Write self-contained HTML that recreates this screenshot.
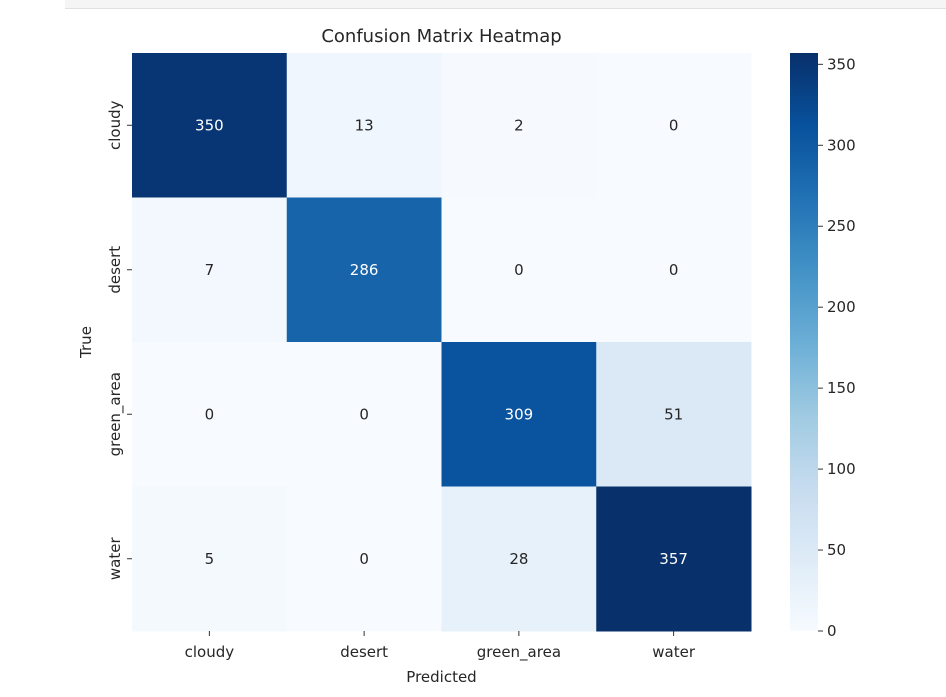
<!DOCTYPE html>
<html><head><meta charset="utf-8"><style>
body{margin:0;background:#fff;font-family:"DejaVu Sans","Liberation Sans",sans-serif}
#top{position:absolute;left:65px;top:0;width:881px;height:8px;background:#f5f5f5;border-bottom:1px solid #e0e0e0}
</style></head><body>
<div id="top"></div>
<svg id="chart" width="946" height="697" style="position:absolute;left:0;top:0"></svg>
<script>
const labels=["cloudy","desert","green_area","water"];
const matrix=[[350,13,2,0],[7,286,0,0],[0,0,309,51],[5,0,28,357]];
const cbTicks=[0,50,100,150,200,250,300,350];
const vmin=0,vmax=357;
const blues=[[247,251,255],[222,235,247],[198,219,239],[158,202,225],[107,174,214],[66,146,198],[33,113,181],[8,81,156],[8,48,107]];
function cmap(v){let t=Math.max(0,Math.min(1,(v-vmin)/(vmax-vmin)))*(blues.length-1);let i=Math.min(Math.floor(t),blues.length-2),f=t-i;const a=blues[i],b=blues[i+1];return `rgb(${a.map((c,k)=>Math.round(c+(b[k]-c)*f)).join(',')})`;}
const svg=document.getElementById('chart');const NS='http://www.w3.org/2000/svg';
function el(tag,attrs,parent){const e=document.createElementNS(NS,tag);for(const k in attrs)e.setAttribute(k,attrs[k]);(parent||svg).appendChild(e);return e;}
const X0=132,X1=751,Y0=53,Y1=631;const cw=(X1-X0)/labels.length,ch=(Y1-Y0)/labels.length;
const xs=i=>X0+i*cw,ys=i=>Y0+i*ch;
matrix.forEach((row,r)=>row.forEach((v,c)=>{
 const rc=el('rect',{x:xs(c),y:ys(r),width:cw+0.5,height:ch+0.5,fill:cmap(v)});
 
 
 const t=el('text',{x:xs(c)+cw/2,y:ys(r)+ch/2+5,'text-anchor':'middle','font-size':'15',fill:(v-vmin)/(vmax-vmin)>0.5?'#fff':'#262626'});
 t.textContent=v;
 
 
}));
labels.forEach((l,i)=>{
 const cx=xs(i)+cw/2;
 el('line',{x1:cx,x2:cx,y1:Y1,y2:Y1+5,stroke:'#333'});
 const t=el('text',{x:cx,y:Y1+26,'text-anchor':'middle','font-size':'15',fill:'#262626'});t.textContent=l;
 
 
 const cy=ys(i)+ch/2;
 el('line',{x1:X0-5,x2:X0,y1:cy,y2:cy,stroke:'#333'});
 const u=el('text',{x:0,y:0,'text-anchor':'middle','font-size':'15',fill:'#262626',transform:`translate(${X0-12},${cy}) rotate(-90)`});u.textContent=l;
 
 
});
const title=el('text',{x:(X0+X1)/2,y:42,'text-anchor':'middle','font-size':'18',fill:'#262626'});title.textContent='Confusion Matrix Heatmap';


const xt=el('text',{x:(X0+X1)/2,y:682,'text-anchor':'middle','font-size':'15',fill:'#262626'});xt.textContent='Predicted';


const yt=el('text',{x:0,y:0,'text-anchor':'middle','font-size':'15',fill:'#262626',transform:`translate(91,${(Y0+Y1)/2}) rotate(-90)`});yt.textContent='True';


// colorbar
const CX=790,CW=28;const cby=v=>Y1-(v-vmin)/(vmax-vmin)*(Y1-Y0);
const defs=el('defs',{});const g=el('linearGradient',{id:'cbg',x1:0,y1:1,x2:0,y2:0},defs);
blues.forEach((c,i)=>el('stop',{offset:i/(blues.length-1),'stop-color':`rgb(${c})`},g));
const cb=el('rect',{x:CX,y:Y0,width:CW,height:Y1-Y0,fill:'url(#cbg)'});


cbTicks.forEach(v=>{const y=cby(v);el('line',{x1:CX+CW,x2:CX+CW+5,y1:y,y2:y,stroke:'#333'});
 const t=el('text',{x:CX+CW+9,y:y+5,'font-size':'15',fill:'#262626'});t.textContent=v;
 
 });
</script>
</body></html>
